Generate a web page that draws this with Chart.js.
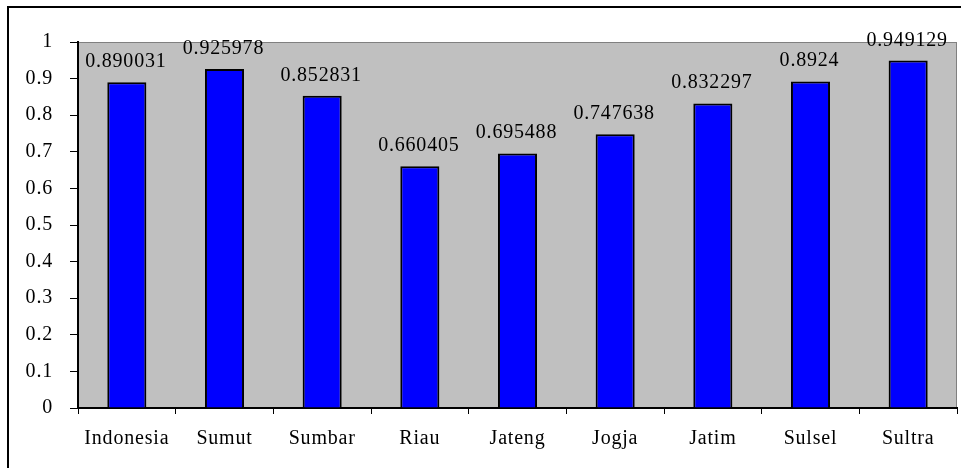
<!DOCTYPE html>
<html>
<head>
<meta charset="utf-8">
<script src="https://cdn.jsdelivr.net/npm/chart.js@4"></script>
<style>
  html, body { margin: 0; padding: 0; background: #fff; }
  #wrap { width: 961px; height: 468px; position: relative; }
</style>
</head>
<body>
<div id="wrap"><canvas id="myChart" width="961" height="468"></canvas></div>
<script>
const regions = ['Indonesia', 'Sumut', 'Sumbar', 'Riau', 'Jateng', 'Jogja', 'Jatim', 'Sulsel', 'Sultra']
const values = [0.890031, 0.925978, 0.852831, 0.660405, 0.695488, 0.747638, 0.832297, 0.8924, 0.949129]
const valueLabels = ['0.890031', '0.925978', '0.852831', '0.660405', '0.695488', '0.747638', '0.832297', '0.8924', '0.949129']

const SERIF = '"Liberation Serif", "Times New Roman", serif'
const SPACING = 0.8 // the reference text is a bit wider than Liberation Serif

// gray plot area + outer frame
const backdrop = {
  id: 'backdrop',
  beforeDraw(chart) {
    const ctx = chart.ctx, a = chart.chartArea
    ctx.letterSpacing = SPACING + 'px'
    ctx.save()
    ctx.fillStyle = '#fff'
    ctx.fillRect(0, 0, chart.width, chart.height)
    ctx.strokeStyle = '#000'
    ctx.lineWidth = 2
    ctx.strokeRect(8, 7, chart.width + 10, chart.height + 10)
    ctx.fillStyle = '#c0c0c0'
    ctx.fillRect(a.left, a.top, a.right - a.left, a.bottom - a.top)
    ctx.strokeStyle = '#808080'
    ctx.lineWidth = 1
    ctx.strokeRect(a.left + 0.5, a.top + 0.5, a.right - a.left - 1, a.bottom - a.top)
    ctx.restore()
  }
}

// value labels above each bar
const barLabels = {
  id: 'barLabels',
  afterDatasetsDraw(chart) {
    const ctx = chart.ctx
    const meta = chart.getDatasetMeta(0)
    ctx.save()
    ctx.letterSpacing = SPACING + 'px'
    ctx.font = '20px ' + SERIF
    ctx.fillStyle = '#000'
    ctx.textAlign = 'center'
    ctx.textBaseline = 'alphabetic'
    meta.data.forEach((bar, i) => {
      ctx.fillText(valueLabels[i], bar.x - 1, bar.y - 15)
    })
    ctx.restore()
  }
}

var ctx = document.getElementById('myChart').getContext('2d')
var chart = new Chart(ctx, {
  type: 'bar',
  data: {
    labels: regions,
    datasets: [{
      data: values,
      backgroundColor: '#0000ff',
      borderColor: '#000',
      borderWidth: 2,
      categoryPercentage: 0.4,
      barPercentage: 1
    }]
  },
  options: {
    responsive: false,
    animation: false,
    layout: { padding: { top: 42, right: 4, left: 0, bottom: 0 } },
    plugins: { legend: { display: false }, tooltip: { enabled: false } },
    scales: {
      x: {
        grid: { display: true, drawOnChartArea: false, offset: true, tickLength: 6, color: '#000', lineWidth: 1 },
        border: { color: '#000', width: 2 },
        ticks: { color: '#000', font: { family: SERIF, size: 20 }, padding: 13, maxRotation: 0 },
        afterFit(s) { s.height = 60 }
      },
      y: {
        min: 0, max: 1,
        grid: { display: true, drawOnChartArea: false, tickLength: 8, color: '#000', lineWidth: 1 },
        border: { color: '#000', width: 2 },
        ticks: { stepSize: 0.1, color: '#000', font: { family: SERIF, size: 20 }, padding: 17,
          callback: v => Math.round(v * 10) / 10 },
        afterFit(s) { s.width = 78 }
      }
    }
  },
  plugins: [backdrop, barLabels]
})
</script>
</body>
</html>
